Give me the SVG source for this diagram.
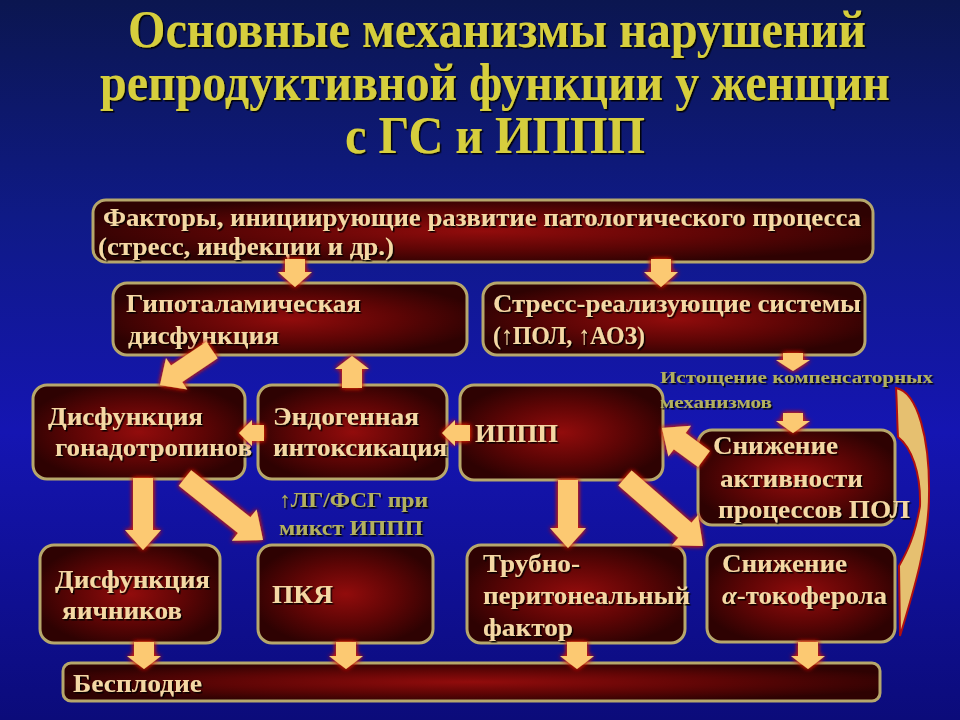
<svg xmlns="http://www.w3.org/2000/svg" width="960" height="720" viewBox="0 0 960 720">
<defs>
<linearGradient id="bg" x1="0" y1="0" x2="0" y2="1">
<stop offset="0" stop-color="#0b1650"/>
<stop offset="0.3" stop-color="#0f1a86"/>
<stop offset="0.6" stop-color="#1515b2"/>
<stop offset="1" stop-color="#0b0b7a"/>
</linearGradient>
<radialGradient id="boxfill" cx="0.5" cy="0.5" r="0.55">
<stop offset="0" stop-color="#920c0c"/>
<stop offset="0.55" stop-color="#5e0505"/>
<stop offset="1" stop-color="#2e0202"/>
</radialGradient>
<filter id="glow" x="-50%" y="-50%" width="200%" height="200%">
<feGaussianBlur in="SourceAlpha" stdDeviation="2.5" result="b"/>
<feFlood flood-color="#d42000"/>
<feComposite in2="b" operator="in"/>
<feMerge><feMergeNode/><feMergeNode/><feMergeNode in="SourceGraphic"/></feMerge>
</filter>
<filter id="tsh" x="-10%" y="-50%" width="120%" height="200%">
<feDropShadow dx="1.5" dy="1.5" stdDeviation="0.6" flood-color="#000" flood-opacity="0.9"/>
</filter>
<style>
.box{fill:url(#boxfill);stroke:#b6a76c;stroke-width:3}
.t{font-family:"Liberation Serif","Times New Roman",serif;font-weight:bold;fill:#f4d8a4;font-size:26px;filter:url(#tsh)}
.title{font-family:"Liberation Serif","Times New Roman",serif;font-weight:bold;fill:#d6ce3e;font-size:52px}
.ann{font-family:"Liberation Serif","Times New Roman",serif;font-weight:bold;fill:#b2b05e;filter:url(#tsh)}
.arr{fill:#fcc972;filter:url(#glow)}
</style>
</defs>
<rect width="960" height="720" fill="url(#bg)"/>

<g id="title" filter="url(#tsh)">
<text class="title" x="128" y="47" textLength="738" lengthAdjust="spacingAndGlyphs">Основные механизмы нарушений</text>
<text class="title" x="100" y="100" textLength="790" lengthAdjust="spacingAndGlyphs">репродуктивной функции у женщин</text>
<text class="title" x="345" y="153" textLength="300" lengthAdjust="spacingAndGlyphs">с ГС и ИППП</text>
</g>

<g id="factors">
<rect class="box" x="93" y="200" width="780" height="62" rx="13"/>
<text class="t" x="103" y="226" font-size="25" textLength="758" lengthAdjust="spacingAndGlyphs">Факторы, инициирующие развитие патологического процесса</text>
<text class="t" x="98" y="255" font-size="25" textLength="296" lengthAdjust="spacingAndGlyphs">(стресс, инфекции и др.)</text>
</g>

<g id="hypothalamic">
<rect class="box" x="113" y="283" width="354" height="72" rx="14"/>
<text class="t" x="126" y="312" textLength="235" lengthAdjust="spacingAndGlyphs">Гипоталамическая</text>
<text class="t" x="128" y="344" textLength="151" lengthAdjust="spacingAndGlyphs">дисфункция</text>
</g>

<g id="stress">
<rect class="box" x="483" y="283" width="382" height="72" rx="14"/>
<text class="t" x="493" y="312" textLength="368" lengthAdjust="spacingAndGlyphs">Стресс-реализующие системы</text>
<text class="t" x="493" y="344" textLength="152" lengthAdjust="spacingAndGlyphs">(↑ПОЛ, ↑АОЗ)</text>
</g>

<g id="gonadotropins">
<rect class="box" x="33" y="385" width="212" height="94" rx="14"/>
<text class="t" x="48" y="425" textLength="155" lengthAdjust="spacingAndGlyphs">Дисфункция</text>
<text class="t" x="55" y="456" textLength="197" lengthAdjust="spacingAndGlyphs">гонадотропинов</text>
</g>

<g id="intoxication">
<rect class="box" x="258" y="385" width="189" height="94" rx="14"/>
<text class="t" x="273" y="425" textLength="146" lengthAdjust="spacingAndGlyphs">Эндогенная</text>
<text class="t" x="273" y="456" textLength="174" lengthAdjust="spacingAndGlyphs">интоксикация</text>
</g>

<g id="ippp">
<rect class="box" x="460" y="385" width="203" height="95" rx="14"/>
<text class="t" x="475" y="442" textLength="83" lengthAdjust="spacingAndGlyphs">ИППП</text>
</g>

<g id="pol">
<rect class="box" x="698" y="430" width="197" height="95" rx="14"/>
<text class="t" x="713" y="454" textLength="125" lengthAdjust="spacingAndGlyphs">Снижение</text>
<text class="t" x="720" y="487" textLength="143" lengthAdjust="spacingAndGlyphs">активности</text>
<text class="t" x="718" y="518" textLength="192" lengthAdjust="spacingAndGlyphs">процессов ПОЛ</text>
</g>

<g id="ovaries">
<rect class="box" x="40" y="545" width="180" height="98" rx="14"/>
<text class="t" x="55" y="588" textLength="155" lengthAdjust="spacingAndGlyphs">Дисфункция</text>
<text class="t" x="62" y="619" textLength="120" lengthAdjust="spacingAndGlyphs">яичников</text>
</g>

<g id="pky">
<rect class="box" x="258" y="545" width="175" height="98" rx="14"/>
<text class="t" x="272" y="603" textLength="61" lengthAdjust="spacingAndGlyphs">ПКЯ</text>
</g>

<g id="tubal">
<rect class="box" x="467" y="545" width="218" height="98" rx="14"/>
<text class="t" x="483" y="572" textLength="97" lengthAdjust="spacingAndGlyphs">Трубно-</text>
<text class="t" x="483" y="604" textLength="207" lengthAdjust="spacingAndGlyphs">перитонеальный</text>
<text class="t" x="483" y="636" textLength="90" lengthAdjust="spacingAndGlyphs">фактор</text>
</g>

<g id="tocopherol">
<rect class="box" x="707" y="545" width="188" height="97" rx="14"/>
<text class="t" x="722" y="572" textLength="125" lengthAdjust="spacingAndGlyphs">Снижение</text>
<text class="t" x="722" y="604" textLength="165" lengthAdjust="spacingAndGlyphs"><tspan font-style="italic">α</tspan>-токоферола</text>
</g>

<g id="infertility">
<rect class="box" x="63" y="663" width="817" height="38" rx="8"/>
<text class="t" x="73" y="692" textLength="129" lengthAdjust="spacingAndGlyphs">Бесплодие</text>
</g>

<g id="connectors">
<polygon class="arr" points="285,259 305,259 305,272 312,272 295,287 278,272 285,272"/>
<polygon class="arr" points="651,259 671,259 671,272 678,272 661,287 644,272 651,272"/>
<polygon class="arr" points="206.4,341.7 171.0,365.5 166.0,358.1 160,385 187.2,389.6 182.2,382.1 217.6,358.3"/>
<polygon class="arr" points="342,388 362,388 362,369 369,369 352,356 335,369 342,369"/>
<polygon class="arr" points="264,425 252,425 252,420 239,433 252,446 252,441 264,441"/>
<polygon class="arr" points="470,425 455,425 455,420 442,433 455,446 455,441 470,441"/>
<polygon class="arr" points="783,353 803,353 803,360 810,360 793,371 776,360 783,360"/>
<polygon class="arr" points="783,413 803,413 803,421 810,421 793,433 776,421 783,421"/>
<polygon class="arr" points="709.9,451.0 685.6,433.1 691.0,425.8 662,428 668.4,456.4 673.8,449.2 698.1,467.1"/>
<polygon class="arr" points="133,478 153,478 153,530 161,530 143,550 125,530 133,530"/>
<polygon class="arr" points="191.2,470.2 250.4,517.3 256.6,509.4 263,540 231.8,540.8 238.0,532.9 178.8,485.8"/>
<polygon class="arr" points="558,480 578,480 578,528 586,528 568,548 550,528 558,528"/>
<polygon class="arr" points="631.6,470.5 691.5,522.7 698.0,515.1 703,546 671.8,545.3 678.3,537.7 618.4,485.5"/>
<polygon class="arr" points="134,642 154,642 154,656 161,656 144,669 127,656 134,656"/>
<polygon class="arr" points="336,642 356,642 356,656 363,656 346,669 329,656 336,656"/>
<polygon class="arr" points="567,642 587,642 587,656 594,656 577,669 560,656 567,656"/>
<polygon class="arr" points="798,642 818,642 818,656 825,656 808,669 791,656 798,656"/>
<path d="M896,388 C918,392 930,440 929,495 C929,540 914,590 900,636 L899,566 C907,552 915,536 920,506 C921,472 911,447 898,437 C897,420 897,402 896,388 Z" fill="#e6c070" stroke="#b01010" stroke-width="2"/>
<text class="ann" x="660" y="383" font-size="17" textLength="273" lengthAdjust="spacingAndGlyphs">Истощение компенсаторных</text>
<text class="ann" x="660" y="408" font-size="17" textLength="112" lengthAdjust="spacingAndGlyphs">механизмов</text>
<text class="ann" x="279" y="507" font-size="22" textLength="149" lengthAdjust="spacingAndGlyphs">↑ЛГ/ФСГ при</text>
<text class="ann" x="279" y="535" font-size="22" textLength="144" lengthAdjust="spacingAndGlyphs">микст ИППП</text>
</g>
</svg>
